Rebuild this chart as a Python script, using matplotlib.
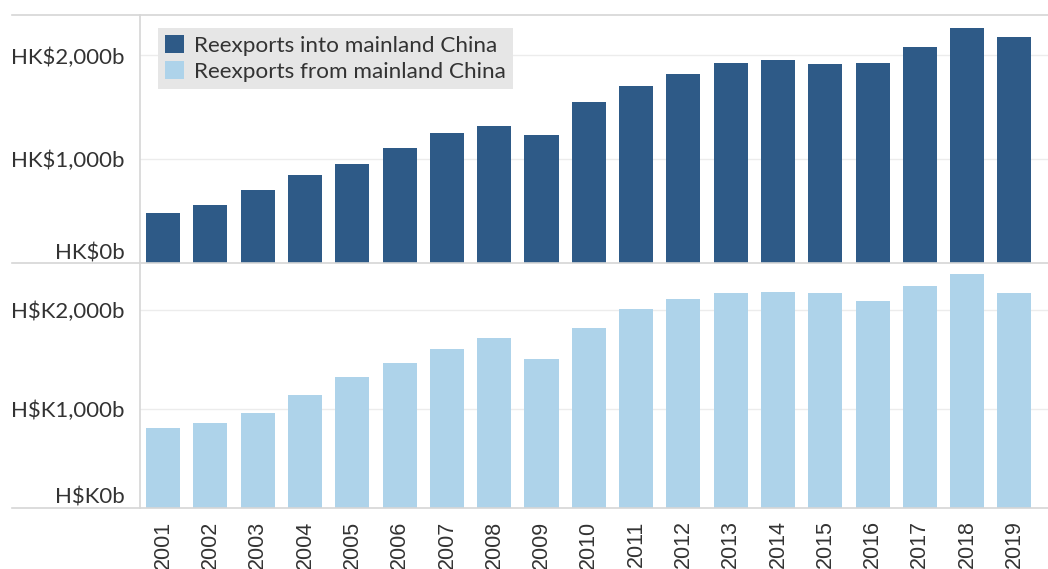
import numpy as np
import matplotlib.pyplot as plt
from matplotlib.lines import Line2D

plt.rcParams['font.family'] = ['Lato', 'DejaVu Sans']

years = [str(y) for y in range(2001, 2020)]
into_china = [485, 560, 705, 850, 957, 1111, 1256, 1324, 1237, 1556,
              1710, 1826, 1932, 1952, 1913, 1932, 2077, 2261, 2174]
from_china = [808, 859, 960, 1141, 1323, 1465, 1606, 1717, 1505, 1818,
              2010, 2111, 2172, 2182, 2172, 2091, 2242, 2364, 2172]
top_ticks = [0, 1000, 2000]
top_labels = ['HK$0b', 'HK$1,000b', 'HK$2,000b']
bottom_labels = ['H$K0b', 'H$K1,000b', 'H$K2,000b']

DARK = '#2e5a87'
LIGHT = '#aed3ea'
GRID = '#ececec'
LINE = '#d6d6d6'
TEXT = '#333333'


def style(ax, ticks, labels, top):
    ax.set_yticks(ticks)
    ax.set_yticklabels(labels)
    ax.tick_params(axis='y', length=0, pad=11, labelsize=16, labelcolor=TEXT)
    ax.yaxis.get_ticklabels()[0].set_va('bottom')
    ax.set_ylim(0, top)
    ax.set_xlim(-0.49, 18.71)
    for s in ['top', 'right', 'bottom']:
        ax.spines[s].set_visible(False)
    ax.spines['left'].set_color(LINE)
    ax.spines['left'].set_linewidth(1.2)
    ax.grid(axis='y', color=GRID, linewidth=1)
    ax.set_axisbelow(True)


def main():
    fig = plt.figure(figsize=(10.48, 5.69), dpi=100)
    x = np.arange(len(years))

    ax1 = fig.add_axes([140 / 1048, 1 - 263 / 569, 908 / 1048, 248 / 569])
    ax2 = fig.add_axes([140 / 1048, 1 - 508 / 569, 908 / 1048, 245 / 569])

    b1 = ax1.bar(x, into_china, width=0.72, color=DARK, label='Reexports into mainland China')
    b2 = ax2.bar(x, from_china, width=0.72, color=LIGHT, label='Reexports from mainland China')

    style(ax1, top_ticks, top_labels, 2390)
    style(ax2, top_ticks, bottom_labels, 2475)

    ax1.set_xticks([])
    ax2.set_xticks(x)
    ax2.set_xticklabels(years, rotation=90, va='top', ha='center',
                        family=['Liberation Sans', 'DejaVu Sans'])
    ax2.tick_params(axis='x', length=0, pad=9, labelsize=15.5, labelcolor=TEXT)

    # horizontal row dividers reaching into the label column
    for yy in [15, 263, 508]:
        fig.add_artist(Line2D([12 / 1048, 1], [1 - yy / 569] * 2, color=LINE, linewidth=1.2))

    leg = fig.legend([b1, b2], [b1.get_label(), b2.get_label()],
                     loc='upper left', bbox_to_anchor=(158 / 1048, 1 - 28 / 569),
                     borderaxespad=0, frameon=True, fancybox=False,
                     facecolor='#e6e6e6', edgecolor='none', framealpha=1,
                     fontsize=16.2, handlelength=0.85, handleheight=0.85,
                     handletextpad=0.45, labelspacing=0.25, borderpad=0.3)
    for t in leg.get_texts():
        t.set_color(TEXT)

    fig.savefig('out.png', dpi=100)


if __name__ == "__main__":
    main()
